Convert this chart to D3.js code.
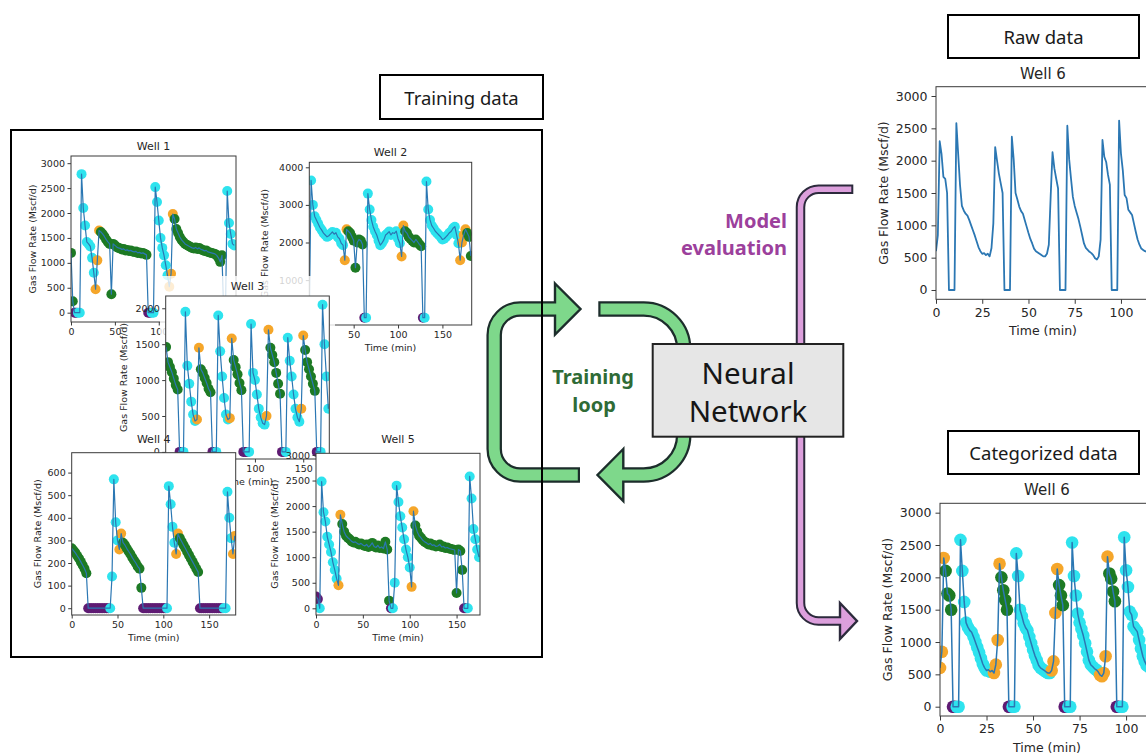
<!DOCTYPE html>
<html>
<head>
<meta charset="utf-8">
<script src="https://cdn.jsdelivr.net/npm/d3@7"></script>
<style>
  body { margin: 0; background: #ffffff; }
  svg { display: block; }
</style>
</head>
<body>
<svg id="fig" width="1146" height="756"></svg>
<script>
// ---------------------------------------------------------------------------
// Gas flow rate records (Mscf/d), sampled at a fixed interval (minutes).
// Flow state labels per sample: c = cyan, g = green, o = orange, p = purple.
// Labels are stored as runs: [state, number of consecutive samples].
// ---------------------------------------------------------------------------
const well1Start = 0, well1Step = 2;
const well1Flow = [1200,230,0,0,0,0,2780,2100,1750,1420,1380,1330,1100,800,470,1050,1650,1620,1580,1530,1470,1420,1380,370,
  1380,1350,1320,1300,1290,1270,1280,1250,1260,1240,1250,1230,1220,1230,1200,1210,1190,1200,1180,1160,0,0,0,0,
  2520,2220,1850,1500,1300,1150,950,750,520,780,1980,1880,1680,1600,1520,1460,1420,1380,1360,1340,1320,1300,
  1290,1310,1280,1300,1270,1260,1240,1250,1220,1210,1200,1190,1180,1150,1100,1020,1150,0,0,2440,1800,1580,1380,1350];
const well1Runs = [["g",2],["p",2],["c",10],["o",3],["g",27],["p",2],["c",10],["o",3],["g",28],["p",1],["c",6]];

const well2Start = 0, well2Step = 2;
const well2Flow = [0,3650,3000,2700,2600,2500,2400,2330,2250,2200,2150,2180,2230,2280,2220,2260,2150,2100,1980,1930,
  1530,2350,2300,2250,2150,2050,1330,2000,2080,2050,1950,0,0,3300,2880,2600,2420,2300,2200,2050,1930,1990,2070,
  2200,2240,2290,2200,2260,2240,2300,2100,1980,1630,2450,2300,2250,2150,2100,2050,2000,2080,2020,1950,1900,0,0,
  3620,2880,2600,2450,2380,2300,2250,2200,2150,2080,2100,2150,2200,2260,2300,2380,2420,2200,1980,1530,2000,2200,
  2350,2250,2150,1640];
const well2Runs = [["c",20],["o",2],["g",9],["p",1],["c",20],["o",2],["g",10],["p",1],["c",20],["o",4],["g",3]];

const well3Start = 8, well3Step = 2;
const well3Flow = [1460,1250,1180,1110,1020,930,870,0,0,0,1950,1200,950,700,520,430,450,1450,1150,1100,1030,960,880,830,
  0,0,0,1900,1400,1050,750,520,450,470,1580,1280,1180,1080,960,860,0,0,0,0,1780,1100,1000,800,600,480,400,380,
  500,1700,1450,1350,1250,1100,950,810,0,0,0,1590,1270,1050,800,600,480,420,600,1620,1420,1250,1150,1050,950,850,
  0,0,0,2050,1500,1050,600];
const well3Runs = [["g",7],["p",2],["c",7],["o",2],["g",6],["p",2],["c",7],["o",2],["g",5],["p",3],["c",9],["o",2],
  ["g",6],["p",2],["c",8],["o",2],["g",6],["p",2],["c",5]];

const well4Start = 0, well4Step = 2;
const well4Flow = [265,255,245,232,220,205,190,175,155,0,0,0,0,0,0,0,0,0,0,0,0,0,140,570,380,300,260,330,
  290,280,265,252,240,225,212,200,185,175,90,0,0,0,0,0,0,0,0,0,0,0,0,0,0,540,460,360,290,240,330,
  310,295,280,265,250,235,220,205,190,175,160,0,0,0,0,0,0,0,0,0,0,0,0,0,0,0,515,400,310,240,320];
const well4Runs = [["g",9],["p",12],["c",5],["o",2],["g",11],["p",13],["c",5],["o",2],["g",11],["p",13],["c",5],["o",2]];

const well5Start = 0, well5Step = 2;
const well5Flow = [230,180,0,2480,1880,1700,1400,1250,1100,900,750,580,450,1830,1650,1500,1420,1380,1350,1310,1290,
  1300,1270,1250,1270,1240,1220,1250,1200,1230,1280,1210,1190,1230,1180,1200,1170,1300,1150,150,0,0,500,2400,
  2080,1800,1580,1350,1150,1000,800,420,1900,1620,1500,1420,1380,1330,1300,1280,1250,1270,1230,1240,1210,1220,
  1250,1200,1210,1180,1190,1170,1160,1150,1140,300,1150,1120,750,0,0,0,2580,2150,1550,1350,1150,1000];
const well5Runs = [["p",2],["c",10],["o",2],["g",26],["p",1],["c",10],["o",2],["g",26],["p",2],["c",7]];

// Well 6: the evaluation well, one sample per minute.
const well6Start = 0, well6Step = 1;
const well6Flow = [600,850,2300,2100,1750,1720,1500,0,0,0,0,2580,2100,1620,1300,1230,1180,1150,1080,1000,920,840,750,
  660,600,560,570,540,560,520,650,1030,2210,2000,1800,1650,1500,0,0,0,0,2370,2020,1500,1400,1290,1220,1180,1080,
  980,880,790,720,640,600,580,560,540,520,520,560,700,1450,2130,1880,1720,1570,0,0,0,0,2540,2020,1720,1440,1300,
  1200,1100,980,850,720,650,620,590,570,540,490,470,520,780,2320,2060,1980,1780,1630,0,0,0,0,2620,2110,1850,1470,
  1420,1240,1200,1160,1030,900,780,700,640,620,600,590,580,570,560,560];
const well6Runs = [["o",3],["g",4],["p",2],["c",20],["o",4],["g",4],["p",2],["c",21],["o",4],["g",3],["p",2],
  ["c",17],["o",5],["g",4],["p",2],["c",22]];

// Tick values
const ticks3000 = [0,500,1000,1500,2000,2500,3000];
const ticks4000 = [0,1000,2000,3000,4000];
const ticks2000 = [0,500,1000,1500,2000];
const ticks600 = [0,100,200,300,400,500,600];
const timeTicksShort = [0,50,100,150];
const timeTicksLong = [0,25,50,75,100,125];

// Text
const yLabelText = "Gas Flow Rate (Mscf/d)";
const xLabelText = "Time (min)";

// ---------------------------------------------------------------------------
const stateColor = { c: "#2ee3ee", g: "#1d7a24", o: "#f5a62a", p: "#5f1b73" };
const lineColor = "#2b77b3";
const axisColor = "#3a3a3a";
const textColor = "#262626";
const mplFont = "'DejaVu Sans', sans-serif";
const uiFont = "'Noto Sans', 'Open Sans', sans-serif";

const expandRuns = runs => runs.flatMap(([k, n]) => Array(n).fill(k));

const svg = d3.select("#fig");
svg.append("rect").attr("width", 1146).attr("height", 756).attr("fill", "#ffffff");

let clipCount = 0;
function drawPanel(parent, p) {
  const g = parent.append("g");
  const x = d3.scaleLinear().domain(p.xDomain).range([p.left, p.right]);
  const y = d3.scaleLinear().domain(p.yDomain).range([p.bottom, p.top]);
  const clipId = "clip" + (clipCount++);
  g.append("clipPath").attr("id", clipId).append("rect")
    .attr("x", p.left).attr("y", p.top).attr("width", p.right - p.left).attr("height", p.bottom - p.top);

  g.append("rect").attr("x", p.left).attr("y", p.top)
    .attr("width", p.right - p.left).attr("height", p.bottom - p.top).attr("fill", "#ffffff");

  const states = p.runs ? expandRuns(p.runs) : null;
  const pts = p.flow.map((v, i) => ({ t: p.start + i * p.step, v, k: states ? states[i] : null }));
  const plot = g.append("g").attr("clip-path", `url(#${clipId})`);
  if (states) {
    plot.selectAll("circle").data(pts).join("circle")
      .attr("cx", d => x(d.t)).attr("cy", d => y(d.v)).attr("r", p.r)
      .attr("fill", d => stateColor[d.k]);
  }
  plot.append("path").datum(pts)
    .attr("d", d3.line().x(d => x(d.t)).y(d => y(d.v)))
    .attr("fill", "none").attr("stroke", lineColor).attr("stroke-width", p.lw)
    .attr("stroke-linejoin", "round");

  g.append("rect").attr("x", p.left).attr("y", p.top)
    .attr("width", p.right - p.left).attr("height", p.bottom - p.top)
    .attr("fill", "none").attr("stroke", axisColor).attr("stroke-width", 1);

  const xt = p.xTicks.filter(t => t >= p.xDomain[0] && t <= p.xDomain[1]);
  const ax = g.append("g").attr("transform", `translate(0,${p.bottom})`)
    .call(d3.axisBottom(x).tickValues(xt).tickSize(p.tick).tickPadding(p.pad).tickFormat(d3.format("d")));
  const ay = g.append("g").attr("transform", `translate(${p.left},0)`)
    .call(d3.axisLeft(y).tickValues(p.yTicks).tickSize(p.tick).tickPadding(p.pad).tickFormat(d3.format("d")));
  [ax, ay].forEach(a => {
    a.select(".domain").remove();
    a.attr("font-family", mplFont).attr("font-size", p.fs);
    a.selectAll("line").attr("stroke", axisColor);
    a.selectAll("text").attr("fill", textColor);
  });

  g.append("text").attr("x", (p.left + p.right) / 2).attr("y", p.top - p.titleGap)
    .attr("text-anchor", "middle").attr("font-family", mplFont).attr("font-size", p.titleFs)
    .attr("fill", textColor).text(p.title);
  // the Well 1 figure is cut just below its tick labels, so it has no time label
  if (!p.cropBottom) {
    g.append("text").attr("x", (p.left + p.right) / 2).attr("y", p.bottom + p.xlabGap)
      .attr("text-anchor", "middle").attr("font-family", mplFont).attr("font-size", p.fs)
      .attr("fill", textColor).text(xLabelText);
  }
  const yc = (p.top + p.bottom) / 2;
  g.append("text").attr("transform", `translate(${p.ylabX},${yc}) rotate(-90)`)
    .attr("text-anchor", "middle").attr("dominant-baseline", "central")
    .attr("font-family", mplFont).attr("font-size", p.fs)
    .attr("fill", textColor).text(yLabelText);
  return g;
}

const small = { r: 5, lw: 1.2, tick: 3.5, pad: 2.5, fs: 9.5, titleFs: 11, titleGap: 6, xlabGap: 26 };

// ---------------- training panels ----------------
const training = svg.append("g");

drawPanel(training, Object.assign({}, small, {
  title: "Well 1", flow: well1Flow, runs: well1Runs, start: well1Start, step: well1Step,
  left: 71, right: 236, top: 156, bottom: 322, xDomain: [0, 188], yDomain: [-187, 3144],
  xTicks: timeTicksShort, yTicks: ticks3000, ylabX: 32, cropBottom: true
}));

drawPanel(training, Object.assign({}, small, {
  title: "Well 2", flow: well2Flow, runs: well2Runs, start: well2Start, step: well2Step,
  left: 309.3, right: 471.7, top: 162.3, bottom: 325, xDomain: [0, 183], yDomain: [-194, 4133],
  xTicks: timeTicksShort, yTicks: ticks4000, ylabX: 264
}));

// faded backdrop of the Well 3 figure
training.append("rect").attr("x", 160).attr("y", 276).attr("width", 175).attr("height", 186)
  .attr("fill", "#ffffff").attr("opacity", 0.8);

drawPanel(training, Object.assign({}, small, {
  title: "Well 3", flow: well3Flow, runs: well3Runs, start: well3Start, step: well3Step,
  left: 165.7, right: 329.3, top: 296, bottom: 459, xDomain: [7.6, 177], yDomain: [-99, 2171],
  xTicks: timeTicksShort, yTicks: ticks2000, ylabX: 123, titleGap: 6
}));

drawPanel(training, Object.assign({}, small, {
  title: "Well 4", flow: well4Flow, runs: well4Runs, start: well4Start, step: well4Step,
  left: 71.7, right: 235.7, top: 452.7, bottom: 615, xDomain: [0, 179], yDomain: [-30, 688],
  xTicks: timeTicksShort, yTicks: ticks600, ylabX: 37, titleGap: 10
}));

drawPanel(training, Object.assign({}, small, {
  title: "Well 5", flow: well5Flow, runs: well5Runs, start: well5Start, step: well5Step,
  left: 316, right: 480, top: 453.3, bottom: 615, xDomain: [0, 175], yDomain: [-131, 3033],
  xTicks: timeTicksShort, yTicks: ticks3000, ylabX: 274.5, titleGap: 10
}));

// ---------------- arrows ----------------
const greenFill = "#7ed88b", greenEdge = "#1c2d2b";
const pinkFill = "#dc9fdc", pinkEdge = "#2c2a3c";

function bandArrow(g, dOuter, dInner, head, fill, edge, wOuter, wInner) {
  g.append("path").attr("d", dOuter).attr("fill", "none").attr("stroke", edge)
    .attr("stroke-width", wOuter).attr("stroke-linejoin", "round");
  if (head) {
    g.append("polygon").attr("points", head.map(p => p.join(",")).join(" "))
      .attr("fill", fill).attr("stroke", edge).attr("stroke-width", 2.4).attr("stroke-linejoin", "miter");
  }
  g.append("path").attr("d", dInner).attr("fill", "none").attr("stroke", fill)
    .attr("stroke-width", wInner).attr("stroke-linejoin", "round");
}

const arrows = svg.append("g");
// training loop, left half (points back into the training data)
bandArrow(arrows,
  "M580,475 H520.2 A26,26 0 0 1 494.2,449 V335 A26,26 0 0 1 520.2,309 H555",
  "M577.8,475 H520.2 A26,26 0 0 1 494.2,449 V335 A26,26 0 0 1 520.2,309 H558",
  [[555, 283.5], [580.5, 309], [555, 334.5]], greenFill, greenEdge, 15.5, 11);
// training loop, right half (through the network and back)
bandArrow(arrows,
  "M598.3,309 H643.7 A40,40 0 0 1 683.7,349 V435 A40,40 0 0 1 643.7,475 H623.3",
  "M600.5,309 H643.7 A40,40 0 0 1 683.7,349 V435 A40,40 0 0 1 643.7,475 H620.3",
  [[623.3, 449], [597.5, 475], [623.3, 501]], greenFill, greenEdge, 15.5, 11);

// training data frame
svg.append("rect").attr("x", 11).attr("y", 130).attr("width", 531).attr("height", 527)
  .attr("fill", "none").attr("stroke", "#000").attr("stroke-width", 2);

// model evaluation path
bandArrow(arrows,
  "M853.3,189.2 H818.5 A18,18 0 0 0 800.5,207.2 V603 A18,18 0 0 0 818.5,621 H840",
  "M851.3,189.2 H818.5 A18,18 0 0 0 800.5,207.2 V603 A18,18 0 0 0 818.5,621 H842.5",
  [[840, 603], [857, 621], [840, 639]], pinkFill, pinkEdge, 9.5, 5.5);

// neural network block
svg.append("rect").attr("x", 652.7).attr("y", 344).attr("width", 190.6).attr("height", 92.7)
  .attr("fill", "#e6e6e6").attr("stroke", "#222").attr("stroke-width", 2);
svg.append("text").attr("x", 748).attr("y", 372).attr("text-anchor", "middle").attr("dominant-baseline", "central")
  .attr("font-family", uiFont).attr("font-size", 29.5).attr("fill", "#161616").text("Neural");
svg.append("text").attr("x", 748).attr("y", 410).attr("text-anchor", "middle").attr("dominant-baseline", "central")
  .attr("font-family", uiFont).attr("font-size", 29.5).attr("fill", "#161616").text("Network");

// loop captions
svg.append("text").attr("x", 593).attr("y", 376).attr("text-anchor", "middle").attr("dominant-baseline", "central")
  .attr("font-family", uiFont).attr("font-weight", 700).attr("font-size", 20).attr("fill", "#2f6b36").text("Training");
svg.append("text").attr("x", 594).attr("y", 404).attr("text-anchor", "middle").attr("dominant-baseline", "central")
  .attr("font-family", uiFont).attr("font-weight", 700).attr("font-size", 20).attr("fill", "#2f6b36").text("loop");
svg.append("text").attr("x", 787).attr("y", 220).attr("text-anchor", "end").attr("dominant-baseline", "central")
  .attr("font-family", uiFont).attr("font-weight", 700).attr("font-size", 20).attr("fill", "#9c409c").text("Model");
svg.append("text").attr("x", 787).attr("y", 247).attr("text-anchor", "end").attr("dominant-baseline", "central")
  .attr("font-family", uiFont).attr("font-weight", 700).attr("font-size", 20).attr("fill", "#9c409c").text("evaluation");

// ---------------- evaluation well ----------------
const big = { tick: 4.5, pad: 4, fs: 12.5, titleFs: 15, titleGap: 8, xlabGap: 36 };

drawPanel(svg, Object.assign({}, big, {
  title: "Well 6", flow: well6Flow, runs: null, start: well6Start, step: well6Step, lw: 1.8,
  left: 936, right: 1150, top: 86.7, bottom: 299.3, xDomain: [0, 115.7], yDomain: [-144, 3144],
  xTicks: timeTicksLong, yTicks: ticks3000, ylabX: 883.5
}));

drawPanel(svg, Object.assign({}, big, {
  title: "Well 6", flow: well6Flow, runs: well6Runs, start: well6Start, step: well6Step, lw: 1.5, r: 6.3,
  left: 940, right: 1154, top: 503.3, bottom: 716, xDomain: [0, 115], yDomain: [-144, 3145],
  xTicks: timeTicksLong, yTicks: ticks3000, ylabX: 887
}));

// ---------------- captions ----------------
function captionBox(x, y, w, h, label) {
  svg.append("rect").attr("x", x).attr("y", y).attr("width", w).attr("height", h)
    .attr("fill", "#ffffff").attr("stroke", "#000").attr("stroke-width", 2);
  svg.append("text").attr("x", x + w / 2).attr("y", y + h / 2).attr("text-anchor", "middle")
    .attr("dominant-baseline", "central").attr("font-family", uiFont).attr("font-size", 18.5)
    .attr("fill", "#1a1a1a").text(label);
}
captionBox(380, 75, 163, 44, "Training data");
captionBox(948, 15, 191, 43, "Raw data");
captionBox(948, 431, 191, 43, "Categorized data");
</script>
</body>
</html>
